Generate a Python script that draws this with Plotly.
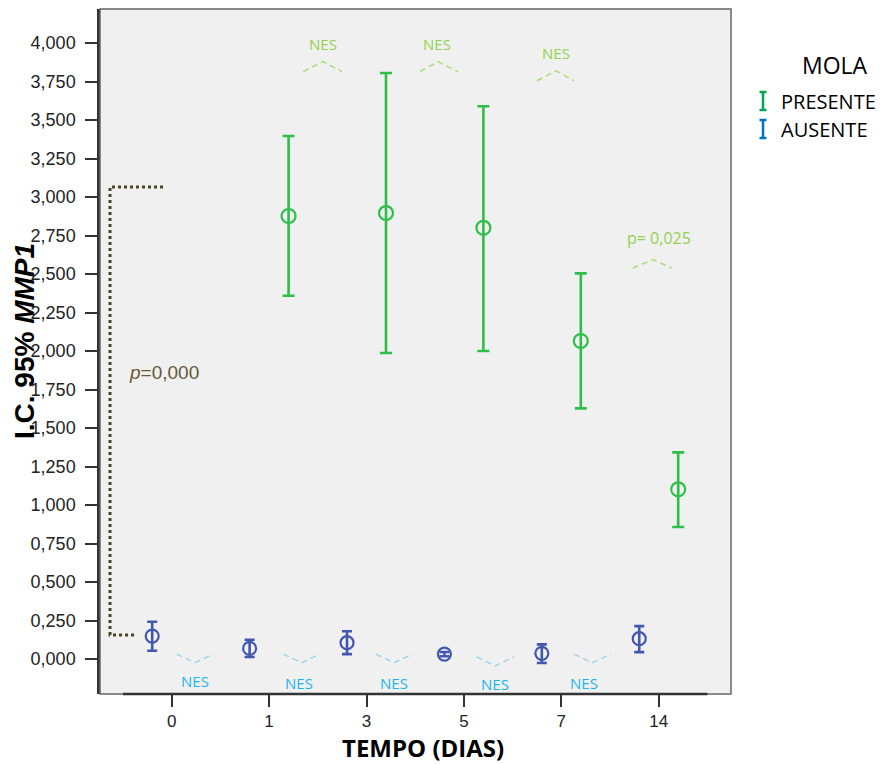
import plotly.graph_objects as go

# Time points (days) and 95% CI summaries of MMP1
dias = ["0", "1", "3", "5", "7", "14"]

# MOLA = AUSENTE (all six time points)
aus_media = [0.149, 0.069, 0.106, 0.032, 0.037, 0.132]
aus_sup = [0.242, 0.125, 0.180, 0.046, 0.095, 0.214]
aus_inf = [0.054, 0.013, 0.032, 0.018, -0.026, 0.045]

# MOLA = PRESENTE (days 1 to 14)
pre_dias = ["1", "3", "5", "7", "14"]
pre_media = [2.877, 2.896, 2.800, 2.065, 1.102]
pre_sup = [3.396, 3.805, 3.590, 2.504, 1.342]
pre_inf = [2.359, 1.987, 2.000, 1.628, 0.857]

VERDE = "#2EBF4B"
AZUL = "#4257B0"
NES_TOP = "#92D050"
NES_BOT = "#1CB4EE"

W, H = 882, 764
ML, MR, MT, MB = 100, 151, 9, 70
XR = [-0.736, 5.742]
YR = [-0.227, 4.221]

pos = {d: i for i, d in enumerate(dias)}


def px(x, y):
    """pixel position -> paper coordinates"""
    return (x - ML) / (W - ML - MR), (H - MB - y) / (H - MT - MB)


fig = go.Figure()

fig.add_trace(go.Scatter(
    x=[pos[d] - 0.2 for d in dias], y=aus_media, mode="markers", name="AUSENTE",
    marker=dict(symbol="circle-open", size=13, color=AZUL, line=dict(width=2.2, color=AZUL)),
    error_y=dict(type="data", symmetric=False,
                 array=[s - m for s, m in zip(aus_sup, aus_media)],
                 arrayminus=[m - i for m, i in zip(aus_media, aus_inf)],
                 color=AZUL, thickness=2.6, width=5),
    showlegend=False,
))
fig.add_trace(go.Scatter(
    x=[pos[d] + 0.2 for d in pre_dias], y=pre_media, mode="markers", name="PRESENTE",
    marker=dict(symbol="circle-open", size=14, color=VERDE, line=dict(width=2.2, color=VERDE)),
    error_y=dict(type="data", symmetric=False,
                 array=[s - m for s, m in zip(pre_sup, pre_media)],
                 arrayminus=[m - i for m, i in zip(pre_media, pre_inf)],
                 color=VERDE, thickness=2.6, width=6),
    showlegend=False,
))

shapes = []
annots = []

# frame of the plotting area
shapes.append(dict(type="rect", xref="paper", yref="paper", x0=0, x1=1, y0=0, y1=1,
                   line=dict(color="#666666", width=1.5), layer="above"))
# bottom axis segment
shapes.append(dict(type="line", xref="x", yref="paper", x0=-0.5, x1=5.5, y0=0, y1=0,
                   line=dict(color="#333333", width=2.5), layer="above"))


def caret(x0, xm, x1, ye, ya, color):
    shapes.append(dict(type="path", xref="x", yref="y",
                       path=f"M {x0},{ye} L {xm},{ya} L {x1},{ye}",
                       line=dict(color=color, width=1.5, dash="6px,4px")))


def label(x, y, text, color, size=15, family="Open Sans"):
    annots.append(dict(x=x, y=y, xref="x", yref="y", text=text, showarrow=False,
                       xanchor="center", yanchor="middle",
                       font=dict(family=family, size=size, color=color)))


def page_text(x, y, text, font, **kw):
    ax, ay = px(x, y)
    opts = dict(xanchor="center", yanchor="middle")
    opts.update(kw)
    annots.append(dict(x=ax, y=ay, xref="paper", yref="paper", text=text,
                       showarrow=False, font=font, **opts))


# comparisons between successive days (MOLA PRESENTE)
caret(1.349, 1.553, 1.749, 3.814, 3.879, "#A9DC7A")
caret(2.549, 2.734, 2.939, 3.814, 3.879, "#A9DC7A")
caret(3.751, 3.946, 4.130, 3.755, 3.820, "#A9DC7A")
caret(4.733, 4.942, 5.133, 2.539, 2.594, "#A9DC7A")
label(1.553, 3.994, "NES", NES_TOP)
label(2.723, 3.994, "NES", NES_TOP)
label(3.946, 3.937, "NES", NES_TOP)
label(5.003, 2.732, "p= 0,025", NES_TOP, size=16)

# comparisons between successive days (MOLA AUSENTE)
for (a, m, b, ye, ya) in [(0.051, 0.239, 0.427, 0.032, -0.024),
                          (1.146, 1.335, 1.523, 0.032, -0.024),
                          (2.098, 2.283, 2.474, 0.032, -0.024),
                          (3.131, 3.319, 3.514, 0.015, -0.045),
                          (4.130, 4.318, 4.510, 0.032, -0.024)]:
    caret(a, m, b, ye, ya, "#9FD4EA")
for (x, y) in [(0.236, -0.141), (1.310, -0.154), (2.282, -0.156),
               (3.322, -0.162), (4.233, -0.154)]:
    label(x, y, "NES", NES_BOT)

# PRESENTE vs AUSENTE bracket
BR = "#4A4326"
shapes.append(dict(type="path", xref="x", yref="y",
                   path="M -0.089,3.065 L -0.633,3.065 L -0.633,0.156 L -0.356,0.156",
                   line=dict(color=BR, width=3, dash="dot")))
label(-0.074, 1.862, "<i>p</i>=0,000", "#65573A", size=19, family="Liberation Sans")

# axis titles
page_text(24, 341, "<b>I.C. 95% <i>MMP1</i></b>",
          dict(family="Liberation Sans", size=28, color="#000000"), textangle=-90)
page_text(423, 747, "<b>TEMPO (DIAS)</b>",
          dict(family="Open Sans", size=24, color="#000000"))

# legend
page_text(835, 65, "MOLA", dict(family="Open Sans", size=23, color="#000000"))
for name, col, yc in [("PRESENTE", "#00A651", 101), ("AUSENTE", "#0070C0", 129)]:
    page_text(779, yc, name, dict(family="Open Sans", size=20, color="#000000"),
              xanchor="left")
    xa, y0 = px(763, yc - 9)
    _, y1 = px(763, yc + 9)
    xl, _ = px(759.5, 0)
    xr, _ = px(766.5, 0)
    for seg in [(xa, y0, xa, y1), (xl, y0, xr, y0), (xl, y1, xr, y1)]:
        shapes.append(dict(type="line", xref="paper", yref="paper",
                           x0=seg[0], y0=seg[1], x1=seg[2], y1=seg[3],
                           line=dict(color=col, width=2.5)))

fig.update_layout(
    width=W, height=H,
    margin=dict(l=ML, r=MR, t=MT, b=MB),
    paper_bgcolor="white", plot_bgcolor="#F0F0F0",
    separators=",.",
    showlegend=False,
    shapes=shapes, annotations=annots,
    xaxis=dict(range=XR, tickmode="array", tickvals=list(range(len(dias))), ticktext=dias,
               showgrid=False, zeroline=False, showline=False,
               ticks="outside", ticklen=12, tickwidth=2, tickcolor="#333333",
               tickfont=dict(family="Liberation Sans", size=17, color="#222222")),
    yaxis=dict(range=YR, tickmode="array", tickvals=[i * 0.25 for i in range(17)],
               tickformat=".3f", showgrid=False, zeroline=False,
               showline=True, linecolor="#333333", linewidth=2.5,
               ticks="outside", ticklen=12, tickwidth=2, tickcolor="#333333",
               ticklabelstandoff=6,
               tickfont=dict(family="Liberation Sans", size=18, color="#222222")),
)

fig.write_html("out.html")
